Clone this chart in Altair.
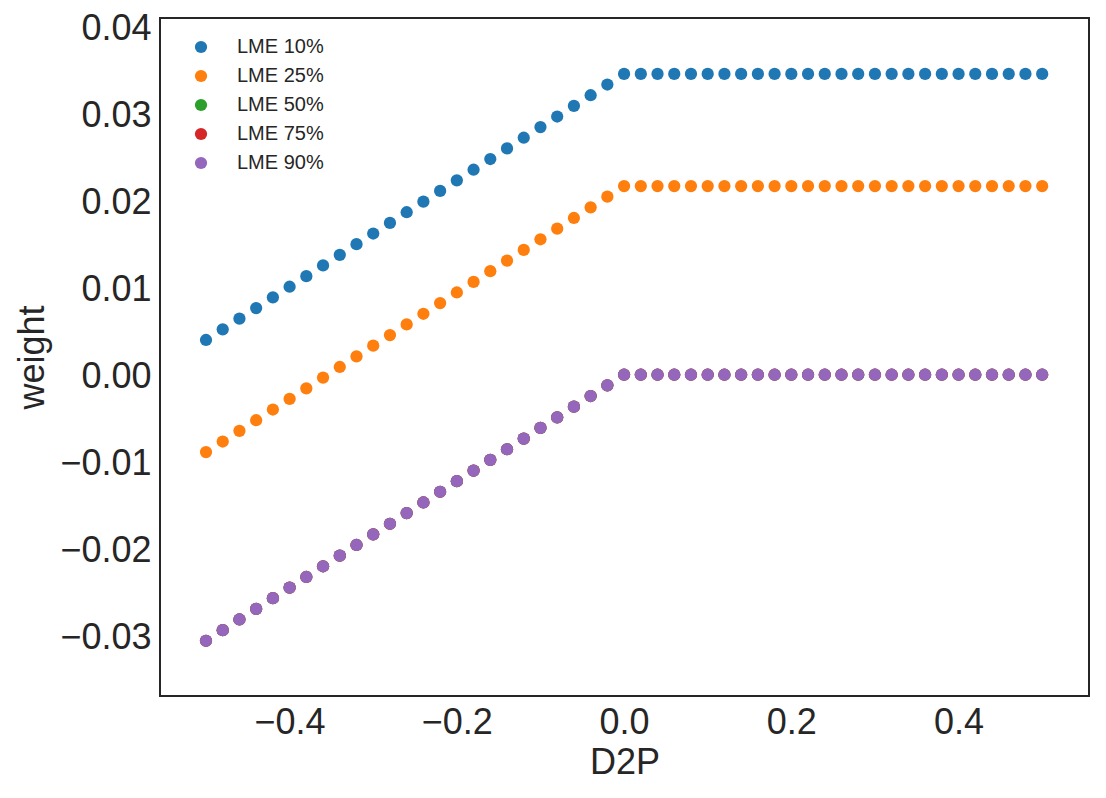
import altair as alt
import pandas as pd

x_vals = [-0.50, -0.48, -0.46, -0.44, -0.42, -0.40, -0.38, -0.36, -0.34, -0.32,
          -0.30, -0.28, -0.26, -0.24, -0.22, -0.20, -0.18, -0.16, -0.14, -0.12,
          -0.10, -0.08, -0.06, -0.04, -0.02, 0.00, 0.02, 0.04, 0.06, 0.08,
          0.10, 0.12, 0.14, 0.16, 0.18, 0.20, 0.22, 0.24, 0.26, 0.28,
          0.30, 0.32, 0.34, 0.36, 0.38, 0.40, 0.42, 0.44, 0.46, 0.48, 0.50]

lme10 = [0.00400, 0.00522, 0.00645, 0.00767, 0.00890, 0.01012, 0.01134, 0.01257, 0.01379, 0.01502,
         0.01624, 0.01746, 0.01869, 0.01991, 0.02114, 0.02236, 0.02358, 0.02481, 0.02603, 0.02726,
         0.02848, 0.02970, 0.03093, 0.03215, 0.03338, 0.0346, 0.0346, 0.0346, 0.0346, 0.0346,
         0.0346, 0.0346, 0.0346, 0.0346, 0.0346, 0.0346, 0.0346, 0.0346, 0.0346, 0.0346,
         0.0346, 0.0346, 0.0346, 0.0346, 0.0346, 0.0346, 0.0346, 0.0346, 0.0346, 0.0346, 0.0346]

lme25 = [-0.00890, -0.00768, -0.00645, -0.00523, -0.00400, -0.00278, -0.00156, -0.00033, 0.00089, 0.00212,
         0.00334, 0.00456, 0.00579, 0.00701, 0.00824, 0.00946, 0.01068, 0.01191, 0.01313, 0.01436,
         0.01558, 0.01680, 0.01803, 0.01925, 0.02048, 0.0217, 0.0217, 0.0217, 0.0217, 0.0217,
         0.0217, 0.0217, 0.0217, 0.0217, 0.0217, 0.0217, 0.0217, 0.0217, 0.0217, 0.0217,
         0.0217, 0.0217, 0.0217, 0.0217, 0.0217, 0.0217, 0.0217, 0.0217, 0.0217, 0.0217, 0.0217]

lme50 = [-0.03060, -0.02938, -0.02815, -0.02693, -0.02570, -0.02448, -0.02326, -0.02203, -0.02081, -0.01958,
         -0.01836, -0.01714, -0.01591, -0.01469, -0.01346, -0.01224, -0.01102, -0.00979, -0.00857, -0.00734,
         -0.00612, -0.00490, -0.00367, -0.00245, -0.00122, 0.0, 0.0, 0.0, 0.0, 0.0,
         0.0, 0.0, 0.0, 0.0, 0.0, 0.0, 0.0, 0.0, 0.0, 0.0,
         0.0, 0.0, 0.0, 0.0, 0.0, 0.0, 0.0, 0.0, 0.0, 0.0, 0.0]

lme75 = [-0.03060, -0.02938, -0.02815, -0.02693, -0.02570, -0.02448, -0.02326, -0.02203, -0.02081, -0.01958,
         -0.01836, -0.01714, -0.01591, -0.01469, -0.01346, -0.01224, -0.01102, -0.00979, -0.00857, -0.00734,
         -0.00612, -0.00490, -0.00367, -0.00245, -0.00122, 0.0, 0.0, 0.0, 0.0, 0.0,
         0.0, 0.0, 0.0, 0.0, 0.0, 0.0, 0.0, 0.0, 0.0, 0.0,
         0.0, 0.0, 0.0, 0.0, 0.0, 0.0, 0.0, 0.0, 0.0, 0.0, 0.0]

lme90 = [-0.03060, -0.02938, -0.02815, -0.02693, -0.02570, -0.02448, -0.02326, -0.02203, -0.02081, -0.01958,
         -0.01836, -0.01714, -0.01591, -0.01469, -0.01346, -0.01224, -0.01102, -0.00979, -0.00857, -0.00734,
         -0.00612, -0.00490, -0.00367, -0.00245, -0.00122, 0.0, 0.0, 0.0, 0.0, 0.0,
         0.0, 0.0, 0.0, 0.0, 0.0, 0.0, 0.0, 0.0, 0.0, 0.0,
         0.0, 0.0, 0.0, 0.0, 0.0, 0.0, 0.0, 0.0, 0.0, 0.0, 0.0]

series_names = ["LME 10%", "LME 25%", "LME 50%", "LME 75%", "LME 90%"]
series_values = [lme10, lme25, lme50, lme75, lme90]
colors = ["#1f77b4", "#ff7f0e", "#2ca02c", "#d62728", "#9467bd"]

rows = []
for i, (name, vals) in enumerate(zip(series_names, series_values)):
    for xv, yv in zip(x_vals, vals):
        rows.append({"D2P": xv, "weight": yv, "series": name, "order": i})
df = pd.DataFrame(rows)

FONT = "Liberation Sans"
TXT = "#262626"

chart = alt.Chart(df).mark_circle(size=150, opacity=1).encode(
    x=alt.X("D2P:Q",
            scale=alt.Scale(domain=[-0.555, 0.556], nice=False, zero=False),
            axis=alt.Axis(title="D2P", values=[-0.4, -0.2, 0.0, 0.2, 0.4], format=".1f",
                          grid=False, domain=False, ticks=False, labelPadding=9,
                          labelFontSize=36, titleFontSize=36, labelColor=TXT, titleColor=TXT,
                          labelFont=FONT, titleFont=FONT, titleFontWeight="normal",
                          titlePadding=5, labelFlush=False)),
    y=alt.Y("weight:Q",
            scale=alt.Scale(domain=[-0.03695, 0.04103], nice=False, zero=False),
            axis=alt.Axis(title="weight", values=[-0.03, -0.02, -0.01, 0.0, 0.01, 0.02, 0.03, 0.04],
                          format=".2f", grid=False, domain=False, ticks=False, labelPadding=9,
                          labelOffset=2,
                          labelFontSize=36, titleFontSize=36, labelColor=TXT, titleColor=TXT,
                          labelFont=FONT, titleFont=FONT, titleFontWeight="normal",
                          titlePadding=8, labelFlush=False)),
    color=alt.Color("series:N",
                    scale=alt.Scale(domain=series_names, range=colors),
                    legend=alt.Legend(title=None, orient="none", legendX=31, legendY=19,
                                      labelFontSize=20, labelFont=FONT, labelColor=TXT,
                                      symbolType="circle", symbolSize=150, symbolOpacity=1,
                                      symbolStrokeWidth=0, labelOffset=26, rowPadding=9,
                                      padding=0)),
    order=alt.Order("order:Q"),
).properties(
    width=929, height=678,
    autosize=alt.AutoSizeParams(type="none"),
    padding={"left": 160, "top": 18, "right": 17, "bottom": 102},
    background="white",
).configure_view(
    stroke=TXT, strokeWidth=2
)

chart.save("out.html", embed_options={"renderer": "svg", "actions": False})
